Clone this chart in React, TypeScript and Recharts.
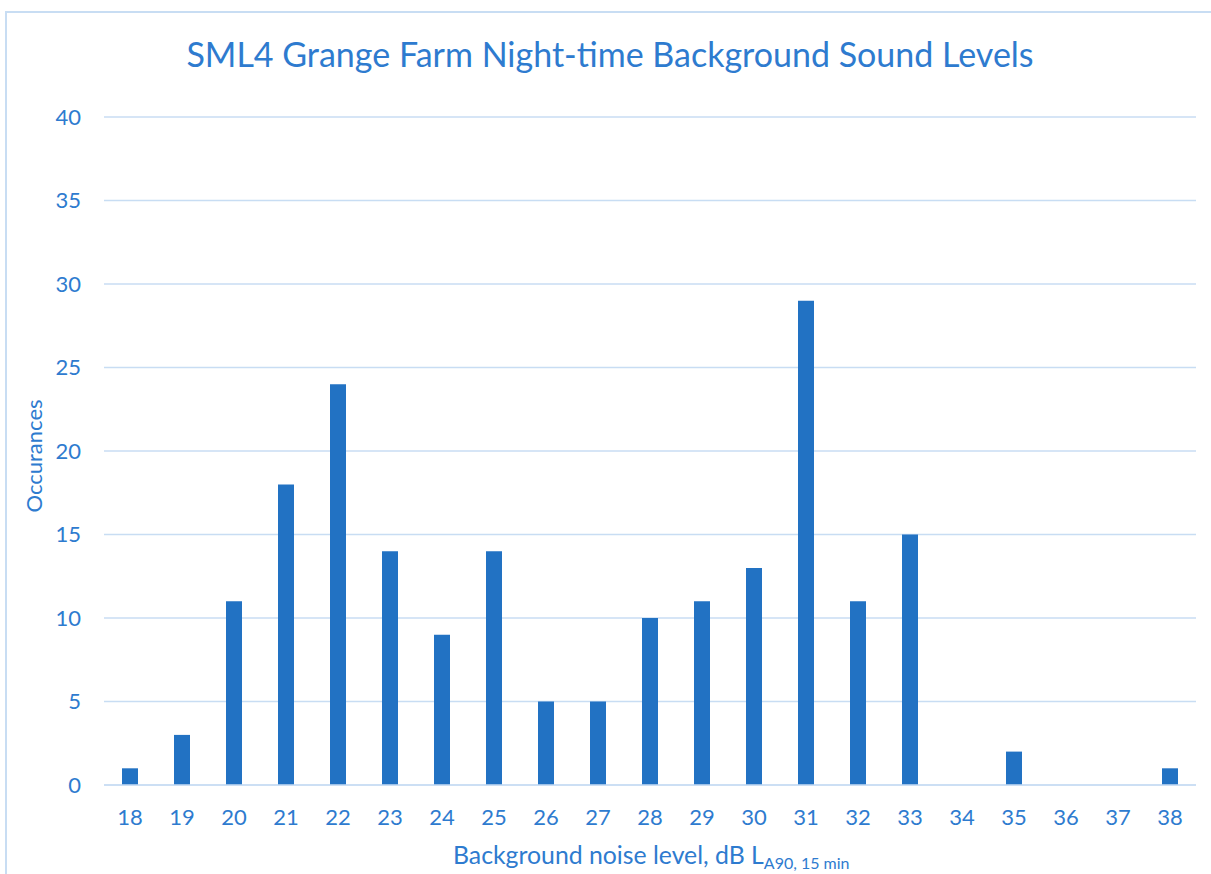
import React from "react";
import { BarChart, Bar, XAxis, YAxis, CartesianGrid } from "recharts";

const categories = ["18","19","20","21","22","23","24","25","26","27","28","29","30","31","32","33","34","35","36","37","38"];
const occurrences = [1,3,11,18,24,14,9,14,5,5,10,11,13,29,11,15,0,2,0,0,1];
const yTicks = [0,5,10,15,20,25,30,35,40];

const data = categories.map((c, i) => ({ level: c, count: occurrences[i] }));

const TEXT = "#2E7BCF";
const BAR = "#2272C3";
const GRID = "#C8DDF3";
const FONT = "Lato, 'Open Sans', sans-serif";

const XTitle = (props: any) => {
  return (
    <text x={453} y={864} textAnchor="start" fill={TEXT} fontFamily={FONT} fontSize={24.8}>
      <tspan>Background noise level, dB L</tspan>
      <tspan fontSize={16} dy={5}>A90, 15 min</tspan>
    </text>
  );
};

export default function App() {
  return (
    <div style={{ position: "absolute", left: 0, top: 0, width: 1211, height: 874, overflow: "hidden", background: "#fff" }}>
      <div style={{ position: "absolute", left: 5, top: 11, width: 1230, height: 900, border: `2px solid ${GRID}`, boxSizing: "border-box" }} />
      <div style={{ position: "absolute", left: 0, top: 33, width: 1220, textAlign: "center", color: TEXT, fontFamily: FONT, fontSize: 34, lineHeight: "42px" }}>
        SML4 Grange Farm Night-time Background Sound Levels
      </div>
      <div style={{ position: "absolute", left: 0, top: 0 }}>
        <BarChart width={1211} height={874} data={data} margin={{ top: 117, right: 15, left: 0, bottom: 0 }} barCategoryGap={0}>
          <CartesianGrid vertical={false} stroke={GRID} strokeWidth={1.6} />
          <XAxis
            dataKey="level"
            height={89}
            tickSize={0}
            tickMargin={24}
            axisLine={{ stroke: GRID, strokeWidth: 1.6 }}
            tick={{ fill: TEXT, fontFamily: FONT, fontSize: 22 }}
            interval={0}
            label={<XTitle />}
          />
          <YAxis
            width={104}
            domain={[0, 40]}
            ticks={yTicks}
            tickSize={0}
            tickMargin={23}
            axisLine={false}
            tick={{ fill: TEXT, fontFamily: FONT, fontSize: 22 }}
            label={{ value: "Occurances", angle: -90, position: "insideLeft", offset: 0, dx: 34, dy: 5, style: { fill: TEXT, fontFamily: FONT, fontSize: 22, textAnchor: "middle" } }}
          />
          <Bar dataKey="count" fill={BAR} barSize={16} isAnimationActive={false} />
        </BarChart>
      </div>
    </div>
  );
}
